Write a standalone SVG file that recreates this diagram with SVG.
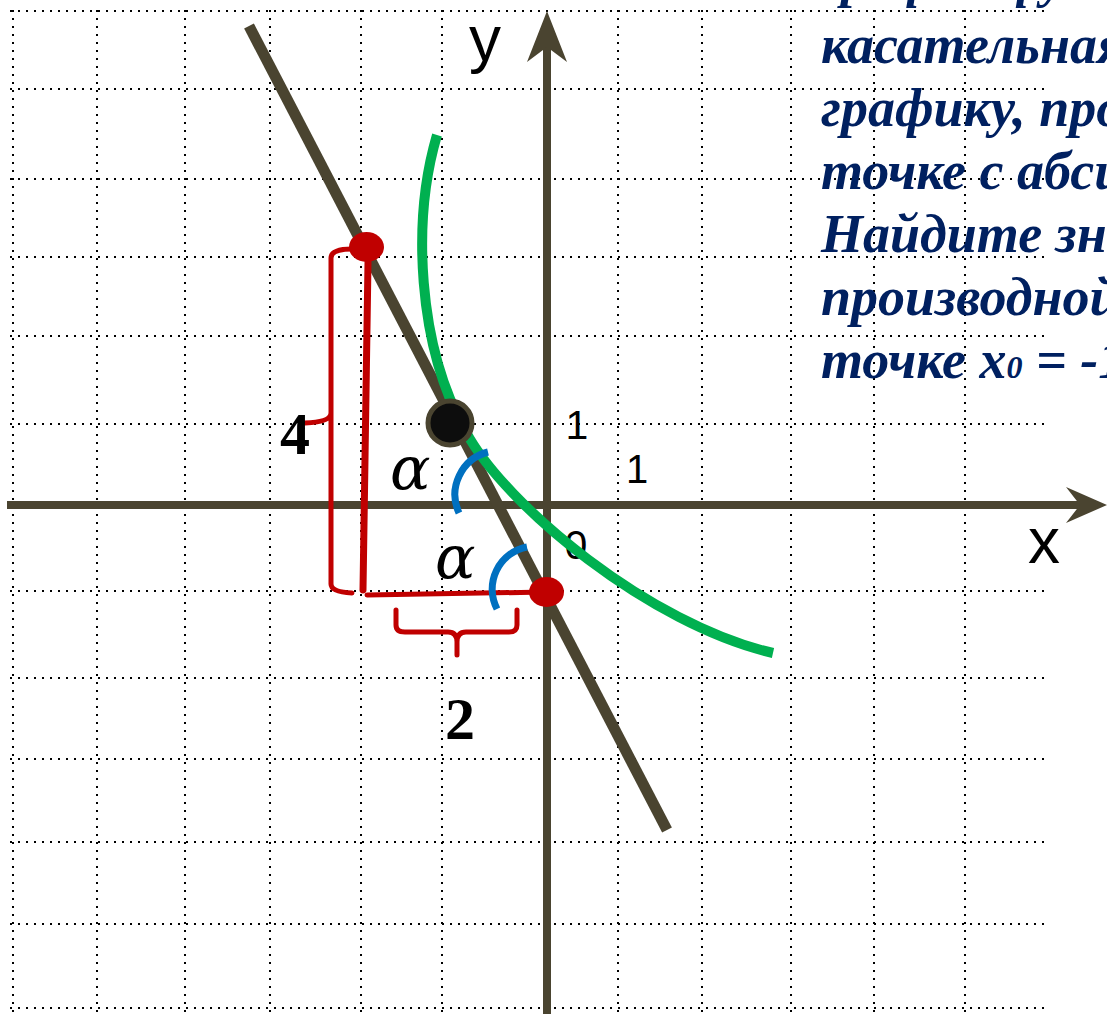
<svg xmlns="http://www.w3.org/2000/svg" width="1107" height="1014" viewBox="0 0 1107 1014">
<style>
.grid{stroke:#000;stroke-width:2;stroke-dasharray:2 6;fill:none}
.ax{stroke:#4a4430;stroke-width:8;fill:none}
.axh{fill:#4a4430}
.red{stroke:#c00000;fill:none;stroke-linecap:round;stroke-linejoin:round}
.blue{stroke:#0070c0;stroke-width:7;fill:none}
.lbl{font-family:"Liberation Sans",Arial,sans-serif;fill:#000}
.num{font-family:"Liberation Serif","Times New Roman",serif;font-weight:bold;font-size:60px;fill:#000}
.alpha{font-family:"DejaVu Serif",serif;font-style:italic;font-size:60px;fill:#000}
.task{font-family:"Liberation Serif","Times New Roman",serif;font-style:italic;font-weight:bold;font-size:54px;fill:#002060}
</style>
<rect width="1107" height="1014" fill="#fff"/>
<g id="grid" class="grid">
<path d="M10,11H1050M10,89H1050M10,179H1050M10,257H1050M10,336H1050M10,424H1050M10,591H1050M10,678H1050M10,759H1050M10,842H1050M10,924H1050M10,1008H1050"/>
<path d="M13,10V1014M97,10V1014M185,10V1014M270,10V1014M361,10V1014M442,10V1014M618,10V1014M702,10V1014M791,10V1014M874,10V1014M965,10V1014"/>
</g>
<g id="task-text" class="task">
<text x="821" y="-4">график функции</text>
<text x="821" y="63">касательная</text>
<text x="821" y="126">графику, про</text>
<text x="821" y="189">точке с абсц</text>
<text x="821" y="252">Найдите зна</text>
<text x="821" y="315">производной</text>
<text x="821" y="378">точке x<tspan font-size="32">0</tspan> = -1</text>
</g>
<g id="axis-labels" class="lbl">
<text x="576" y="559" font-size="41" text-anchor="middle">0</text>
<text x="577" y="439" font-size="41" text-anchor="middle">1</text>
<text x="637" y="483" font-size="40" text-anchor="middle">1</text>
<text x="469" y="61" font-size="64">y</text>
<text x="1028" y="563" font-size="64">x</text>
</g>
<g id="axes">
<path class="ax" d="M7,505H1082"/>
<polygon class="axh" points="1107,505 1066,487 1080,505 1066,523"/>
<path class="ax" d="M547,1014V46"/>
<polygon class="axh" points="547,11 567,62 547,47 527,62"/>
</g>
<g id="connectors">
<path id="tangent" d="M249,26L667,830" stroke="#4a4430" stroke-width="11" fill="none"/>
<path id="graph" d="M437,135C412,220 417,345 466,432C505,505 650,625 773,653" stroke="#00b050" stroke-width="10" fill="none"/>
<path class="red" stroke-width="7" d="M368,262L363,590"/>
<path class="red" stroke-width="5" d="M367,595L546,592"/>
<path id="brace-4" class="red" stroke-width="5" d="M352,249Q331,249 331,258V584Q331,592 352,593M331,413Q331,422 305,423"/>
<path id="brace-2" class="red" stroke-width="5" d="M396,610V625Q396,632 405,632H448Q457,632 457,642V655M457,642Q457,632 466,632H509Q517,632 517,625V610"/>
<path id="arc1" class="blue" d="M488,452A44,44 0 0 0 459,513"/>
<path id="arc2" class="blue" d="M527,547A43,43 0 0 0 497,609"/>
</g>
<g id="point-top"><ellipse cx="366.5" cy="247" rx="17.5" ry="15" fill="#c00000"/></g>
<g id="point-bottom"><ellipse cx="546.5" cy="592" rx="17.5" ry="15" fill="#c00000"/></g>
<g id="point-tangent"><circle cx="450" cy="423" r="22" fill="#0d0d0d" stroke="#4a4430" stroke-width="5"/></g>
<g id="labels">
<text class="num" x="280" y="454">4</text>
<text class="num" x="445" y="739">2</text>
<text class="alpha" x="390" y="489">α</text>
<text class="alpha" x="435" y="578">α</text>
</g>
</svg>
